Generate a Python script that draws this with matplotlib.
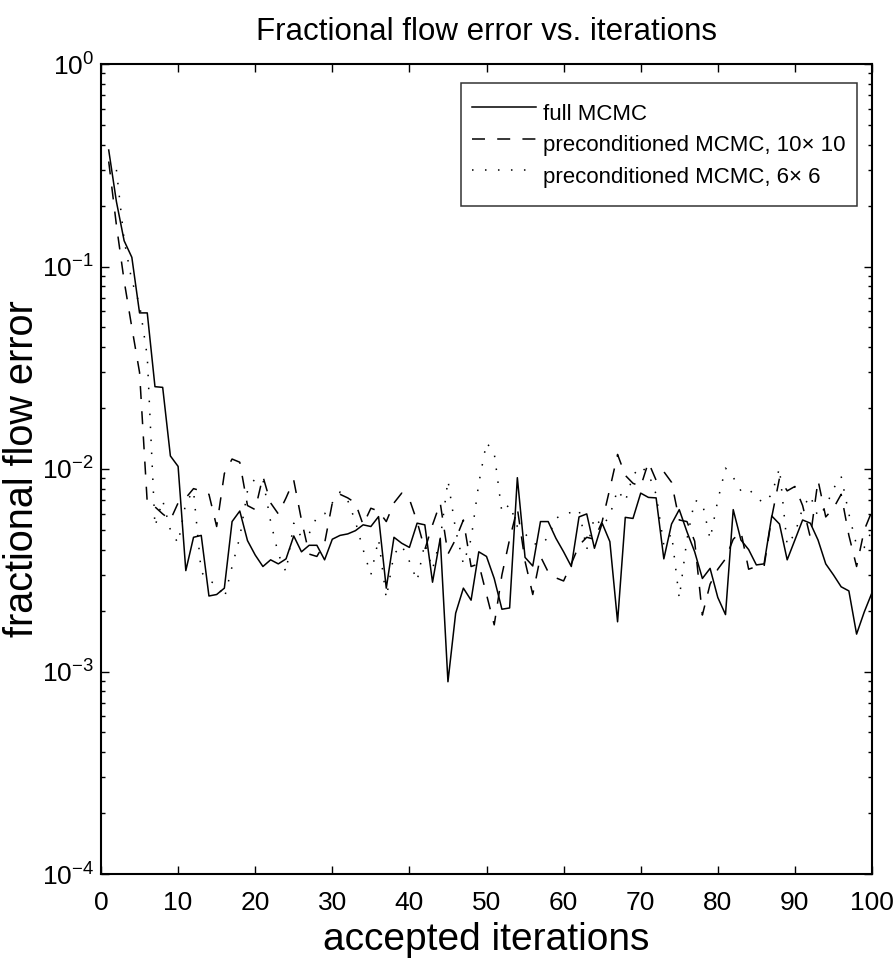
import matplotlib
matplotlib.use("Agg")
import matplotlib.pyplot as plt
from matplotlib.ticker import LogLocator, NullFormatter, MultipleLocator

plt.rcParams['font.family'] = ['Liberation Sans', 'DejaVu Sans']
plt.rcParams['mathtext.fontset'] = 'custom'
plt.rcParams['mathtext.rm'] = 'Liberation Sans'
plt.rcParams['mathtext.it'] = 'Liberation Sans'
plt.rcParams['mathtext.default'] = 'regular'

title = "Fractional flow error vs. iterations"
xlabel = "accepted iterations"
ylabel = "fractional flow error"
labels = ["full MCMC", "preconditioned MCMC, 10\u00d7 10", "preconditioned MCMC, 6\u00d7 6"]

iters_full = list(range(1, 101))
full_mcmc = [0.376, 0.209, 0.134, 0.111, 0.059, 0.059, 0.0255, 0.0253, 0.0116, 0.0103,
             0.00315, 0.0046, 0.0047, 0.00236, 0.0024, 0.00258, 0.0055, 0.0062, 0.00443, 0.00376,
             0.0033, 0.00356, 0.0034, 0.0036, 0.00467, 0.0039, 0.0042, 0.0042, 0.00356, 0.0045,
             0.0047, 0.00478, 0.00496, 0.0053, 0.0052, 0.00582, 0.00258, 0.0046, 0.0043, 0.0041,
             0.0054, 0.0053, 0.00276, 0.00455, 0.00089, 0.00194, 0.00258, 0.00225, 0.0039, 0.0037,
             0.00288, 0.00203, 0.00206, 0.00906, 0.00366, 0.00332, 0.0055, 0.0055, 0.00455, 0.0039,
             0.0033, 0.0058, 0.006, 0.00406, 0.0054, 0.00438, 0.00176, 0.00577, 0.0057, 0.0076,
             0.00724, 0.0072, 0.0036, 0.00535, 0.0063, 0.0049, 0.0039, 0.00288, 0.00323, 0.00232,
             0.00191, 0.0063, 0.00446, 0.004, 0.00336, 0.0034, 0.00586, 0.00535, 0.00356, 0.00446,
             0.0056, 0.0054, 0.00446, 0.0034, 0.003, 0.00262, 0.0025, 0.00153, 0.00197, 0.00245]

iters_pc10 = list(range(1, 101))
pc10 = [0.33, 0.16, 0.085, 0.05, 0.03, 0.0068, 0.0065, 0.006, 0.0056, 0.0068,
        0.0072, 0.008, 0.0078, 0.0075, 0.0052, 0.0095, 0.0112, 0.0108, 0.0066, 0.0063,
        0.0092, 0.0068, 0.006, 0.0072, 0.0088, 0.0056, 0.0038, 0.0037, 0.0043, 0.0068,
        0.0075, 0.0072, 0.0068, 0.0053, 0.0064, 0.0062, 0.0055, 0.0068, 0.0076, 0.0071,
        0.0055, 0.0040, 0.0053, 0.0068, 0.0038, 0.0045, 0.0056, 0.0033, 0.0034, 0.0024,
        0.0017, 0.0030, 0.0045, 0.0064, 0.0035, 0.0024, 0.0037, 0.0031, 0.0029, 0.0028,
        0.0034, 0.0042, 0.0046, 0.0045, 0.0055, 0.0080, 0.0118, 0.0093, 0.0085, 0.0082,
        0.0108, 0.0088, 0.0097, 0.0086, 0.0056, 0.0055, 0.0044, 0.0019, 0.0027, 0.0032,
        0.0036, 0.0045, 0.0049, 0.0032, 0.0033, 0.0033, 0.0058, 0.0090, 0.0078, 0.0082,
        0.0066, 0.0046, 0.0088, 0.0058, 0.0064, 0.0075, 0.0047, 0.0033, 0.0050, 0.0062]

iters_pc6 = list(range(2, 101))
pc6 = [0.30, 0.135, 0.085, 0.065, 0.036, 0.0052, 0.007, 0.005, 0.0043,
       0.0068, 0.0078, 0.0031, 0.0028, 0.0027, 0.0023, 0.0033, 0.0046, 0.0078, 0.0090,
       0.0089, 0.0055, 0.0038, 0.0031, 0.0054, 0.0046, 0.0048, 0.0058, 0.0060, 0.0068,
       0.0077, 0.0070, 0.0055, 0.0040, 0.0030, 0.0045, 0.0023, 0.0038, 0.0042, 0.0035,
       0.0028, 0.0043, 0.0032, 0.0045, 0.0088, 0.0050, 0.0034, 0.0045, 0.0085, 0.0135,
       0.0120, 0.0061, 0.0067, 0.0052, 0.0048, 0.0043, 0.0042, 0.0046, 0.0057, 0.0060,
       0.0061, 0.0063, 0.0040, 0.0058, 0.0052, 0.0059, 0.0079, 0.0069, 0.0093, 0.0103,
       0.0095, 0.0075, 0.0042, 0.0048, 0.0023, 0.0045, 0.0070, 0.0068, 0.0045, 0.0070,
       0.0101, 0.0091, 0.0078, 0.0080, 0.0072, 0.0068, 0.0075, 0.0101, 0.0042, 0.0048,
       0.0064, 0.0074, 0.0058, 0.0065, 0.0080, 0.0092, 0.0060, 0.0042, 0.0041, 0.0050]

fig = plt.figure(figsize=(8.93, 9.61), dpi=100)
ax = fig.add_axes([101/893, 1 - 874/961, (872 - 101)/893, (874 - 64)/961])

lw = 1.1
ax.plot(iters_full, full_mcmc, color='black', lw=lw, linestyle='-', label=labels[0])
ax.plot(iters_pc10, pc10, color='black', lw=lw, linestyle=(0, (8.5, 8)), label=labels[1])
ax.plot(iters_pc6, pc6, color='black', lw=lw, linestyle=(0, (1, 7.5)), label=labels[2])

ax.set_yscale('log')
ax.set_xlim(0, 100)
ax.set_ylim(1e-4, 1e0)
ax.xaxis.set_major_locator(MultipleLocator(10))
ax.yaxis.set_major_locator(LogLocator(base=10, numticks=10))
ax.yaxis.set_minor_locator(LogLocator(base=10, subs=range(2, 10), numticks=20))
ax.yaxis.set_minor_formatter(NullFormatter())

ax.tick_params(which='both', direction='in', top=True, right=True, width=1.0, colors='black')
ax.tick_params(which='major', length=6, labelsize=19)
ax.tick_params(which='minor', length=3)
ax.tick_params(axis='x', which='major', pad=12)
ax.tick_params(axis='y', which='major', pad=5)
for s in ax.spines.values():
    s.set_linewidth(1.5)

ax.set_title(title, fontsize=22.5, pad=17)
ax.set_xlabel(xlabel, fontsize=28, labelpad=5)
ax.set_ylabel(ylabel, fontsize=28.5, labelpad=1)

leg = ax.legend(loc='upper right', bbox_to_anchor=(0.9805, 0.9765), borderaxespad=0,
                fontsize=16, frameon=True, fancybox=False, edgecolor='black',
                handlelength=2.85, handletextpad=0.35, handleheight=2.22,
                labelspacing=-0.27, borderpad=0.5)
leg.get_frame().set_linewidth(1.1)

fig.savefig("out.png", dpi=100, facecolor='white')
